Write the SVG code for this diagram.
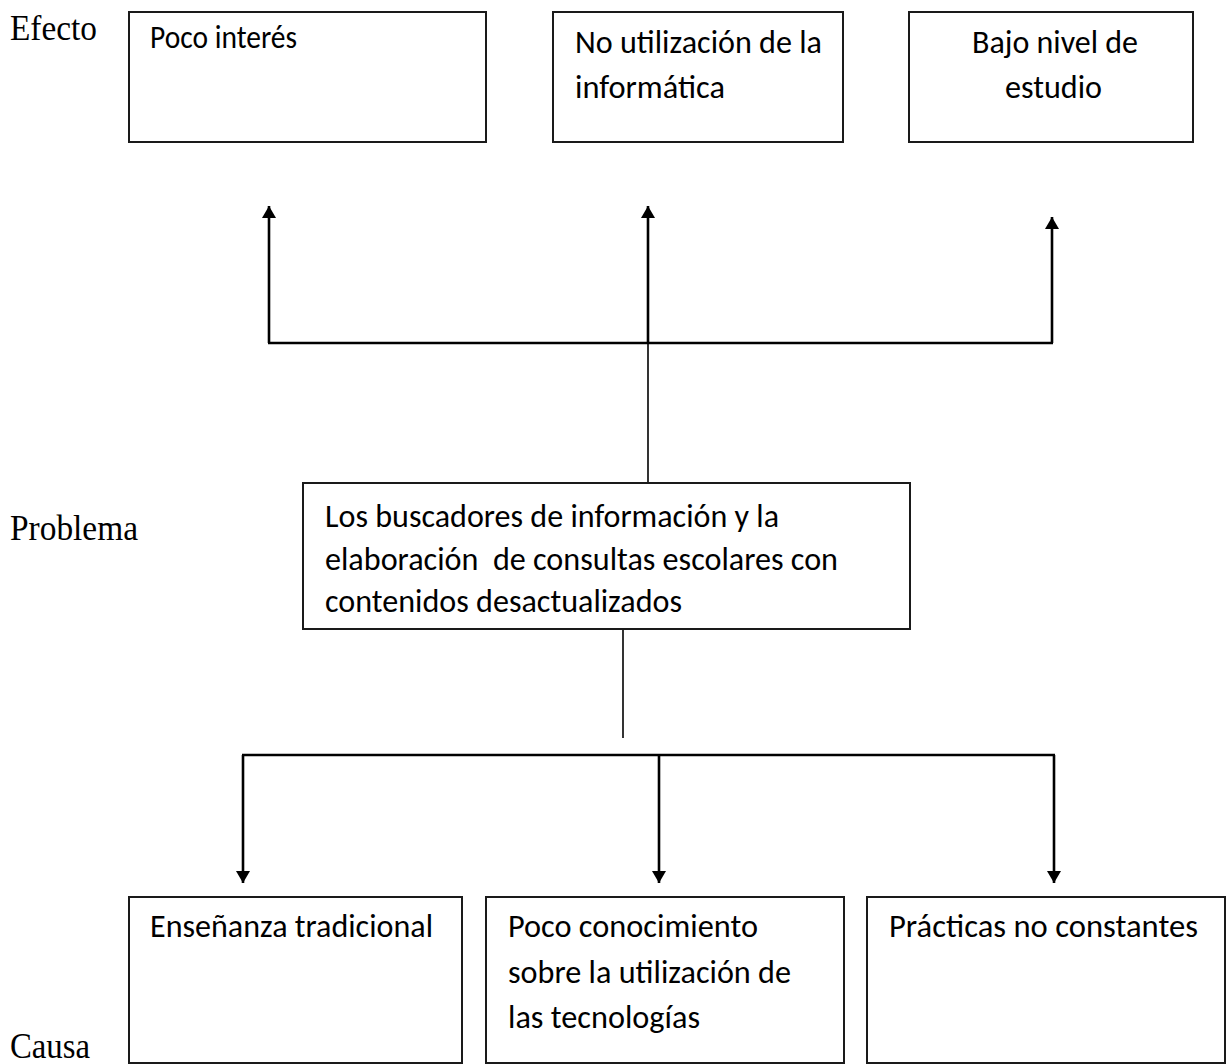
<svg xmlns="http://www.w3.org/2000/svg" width="1230" height="1064" viewBox="0 0 1230 1064">
<style>
.bg{fill:#fff}
.box{fill:#fff;stroke:#1a1a1a;stroke-width:2}
.t{font-family:Carlito,Calibri,Lato,"Open Sans",sans-serif;font-size:32px;fill:#000;white-space:pre}
.lbl{font-family:"Liberation Serif","Times New Roman",serif;font-size:36px;fill:#000}
.ar{stroke:#000;stroke-width:2.6;fill:none}
.ln{stroke:#000;stroke-width:1.6;fill:none}
</style>
<defs>
<marker id="ah" markerUnits="userSpaceOnUse" markerWidth="12" markerHeight="14" viewBox="0 0 12 14" refX="12" refY="7" orient="auto">
<path d="M0,0 L12,7 L0,14 z" fill="#000"/>
</marker>
</defs>
<rect class="bg" x="0" y="0" width="1230" height="1064"/>
<g id="labels">
<text class="lbl" x="10" y="40" textLength="87" lengthAdjust="spacingAndGlyphs">Efecto</text>
<text class="lbl" x="10" y="540" textLength="128" lengthAdjust="spacingAndGlyphs">Problema</text>
<text class="lbl" x="10" y="1058" textLength="80" lengthAdjust="spacingAndGlyphs">Causa</text>
</g>
<g id="connectors">
<line class="ar" x1="269" y1="343" x2="269" y2="206" marker-end="url(#ah)"/>
<line class="ar" x1="648" y1="343" x2="648" y2="206" marker-end="url(#ah)"/>
<line class="ar" x1="1052" y1="343" x2="1052" y2="217" marker-end="url(#ah)"/>
<line class="ar" x1="268" y1="343" x2="1053" y2="343"/>
<line class="ln" x1="648" y1="343" x2="648" y2="483"/>
<line class="ln" x1="623" y1="629" x2="623" y2="738"/>
<line class="ar" x1="242" y1="755" x2="1055" y2="755"/>
<line class="ar" x1="243" y1="755" x2="243" y2="883" marker-end="url(#ah)"/>
<line class="ar" x1="659" y1="755" x2="659" y2="883" marker-end="url(#ah)"/>
<line class="ar" x1="1054" y1="755" x2="1054" y2="883" marker-end="url(#ah)"/>
</g>
<g id="efecto1">
<rect class="box" x="129" y="12" width="357" height="130"/>
<text class="t" x="150" y="48" font-size="30" textLength="147" lengthAdjust="spacingAndGlyphs">Poco interés</text>
</g>
<g id="efecto2">
<rect class="box" x="553" y="12" width="290" height="130"/>
<text class="t" x="575" y="53" textLength="247" lengthAdjust="spacingAndGlyphs">No utilización de la</text>
<text class="t" x="575" y="98" textLength="150" lengthAdjust="spacingAndGlyphs">informática</text>
</g>
<g id="efecto3">
<rect class="box" x="909" y="12" width="284" height="130"/>
<text class="t" x="972" y="53" textLength="166" lengthAdjust="spacingAndGlyphs">Bajo nivel de</text>
<text class="t" x="1005" y="98" textLength="97" lengthAdjust="spacingAndGlyphs">estudio</text>
</g>
<g id="problema">
<rect class="box" x="303" y="483" width="607" height="146"/>
<text class="t" x="325" y="527" textLength="454" lengthAdjust="spacingAndGlyphs">Los buscadores de información y la</text>
<text class="t" x="325" y="570" textLength="513" lengthAdjust="spacingAndGlyphs">elaboración  de consultas escolares con</text>
<text class="t" x="325" y="612" textLength="357" lengthAdjust="spacingAndGlyphs">contenidos desactualizados</text>
</g>
<g id="causa1">
<rect class="box" x="129" y="897" width="333" height="166"/>
<text class="t" x="150" y="937" textLength="283" lengthAdjust="spacingAndGlyphs">Enseñanza tradicional</text>
</g>
<g id="causa2">
<rect class="box" x="486" y="897" width="358" height="166"/>
<text class="t" x="508" y="937" textLength="250" lengthAdjust="spacingAndGlyphs">Poco conocimiento</text>
<text class="t" x="508" y="983" textLength="283" lengthAdjust="spacingAndGlyphs">sobre la utilización de</text>
<text class="t" x="508" y="1028" textLength="192" lengthAdjust="spacingAndGlyphs">las tecnologías</text>
</g>
<g id="causa3">
<rect class="box" x="867" y="897" width="358" height="166"/>
<text class="t" x="889" y="937" textLength="309" lengthAdjust="spacingAndGlyphs">Prácticas no constantes</text>
</g>
</svg>
